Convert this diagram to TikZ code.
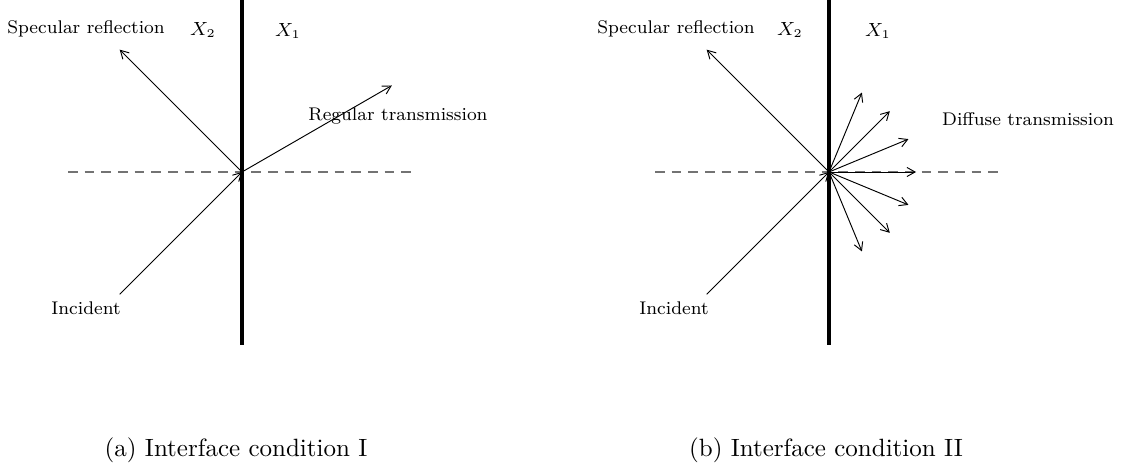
\documentclass[tikz,border=0pt]{standalone}
\usetikzlibrary{positioning,arrows.meta}
\tikzset{
  wall/.style={line width=1.7pt},
  ray/.style={-{Straight Barb[length=3.4pt,width=3.8pt]}, thin},
  axis/.style={black!55, line width=0.5pt, dash pattern=on 4pt off 3pt},
  lbl/.style={font=\fontsize{7.7}{9}\selectfont, inner sep=0pt},
  captxt/.style={font=\fontsize{10.5}{12}\selectfont, inner sep=0pt},
}
\begin{document}
\begin{tikzpicture}[x=0.42pt, y=0.42pt]
    \useasboundingbox (0,0) rectangle (1125,470);

    % (a) interface condition I
    \coordinate (ca) at (242,298);
    \coordinate (wa1) at (242,470);
    \coordinate (wa2) at (242,125);
    \coordinate (la) at (68,298);
    \coordinate (ra) at (415,298);
    \coordinate (ia) at ([shift=(225:173)] ca);
    \coordinate (sa) at ([shift=(135:173)] ca);
    \coordinate (ta) at ([shift=(30:173)] ca);

    \draw[axis] (la) -- (ra);
    \draw[wall] (wa1) -- (wa2);
    \draw[ray] (ia) -- (ca);
    \draw[ray] (ca) -- (sa);
    \draw[ray] (ca) -- (ta);

    \node[lbl] (speca) at (86,441) {Specular reflection};
    \node[lbl] (x2a) at (203,440) {$X_2$};
    \node[lbl] (x1a) at (288,439) {$X_1$};
    \node[lbl] (inca) at (86,162) {Incident};
    \node[lbl] (rega) at (398,354) {Regular transmission};
    \node[captxt] (capa) at (236,20) {(a) Interface condition I};

    % (b) interface condition II
    \coordinate (cb) at (829,298);
    \coordinate (wb1) at (829,470);
    \coordinate (wb2) at (829,125);
    \coordinate (lb) at (655,298);
    \coordinate (rb) at (1003,298);
    \coordinate (ib) at ([shift=(225:173)] cb);
    \coordinate (sb) at ([shift=(135:173)] cb);
    \coordinate (d1) at ([shift=(67.5:86)] cb);
    \coordinate (d2) at ([shift=(45:86)] cb);
    \coordinate (d3) at ([shift=(22.5:86)] cb);
    \coordinate (d4) at ([shift=(0:87)] cb);
    \coordinate (d5) at ([shift=(-22.5:86)] cb);
    \coordinate (d6) at ([shift=(-45:86)] cb);
    \coordinate (d7) at ([shift=(-67.5:86)] cb);

    \draw[axis] (lb) -- (rb);
    \draw[wall] (wb1) -- (wb2);
    \draw[ray] (ib) -- (cb);
    \draw[ray] (cb) -- (sb);
    \draw[ray] (cb) -- (d1);
    \draw[ray] (cb) -- (d2);
    \draw[ray] (cb) -- (d3);
    \draw[ray] (cb) -- (d4);
    \draw[ray] (cb) -- (d5);
    \draw[ray] (cb) -- (d6);
    \draw[ray] (cb) -- (d7);

    \node[lbl] (specb) at (676,441) {Specular reflection};
    \node[lbl] (x2b) at (790,440) {$X_2$};
    \node[lbl] (x1b) at (878,439) {$X_1$};
    \node[lbl] (incb) at (674,162) {Incident};
    \node[lbl] (difb) at (1028,351) {Diffuse transmission};
    \node[captxt] (capb) at (826,20) {(b) Interface condition II};
\end{tikzpicture}
\end{document}
